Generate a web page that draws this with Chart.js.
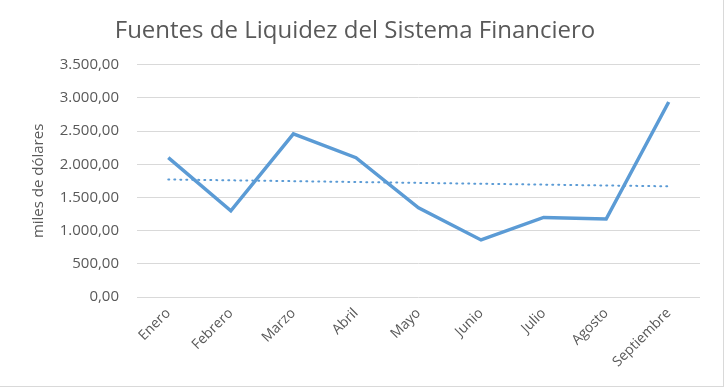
<!DOCTYPE html>
<html>
<head>
<meta charset="utf-8">
<script src="https://cdn.jsdelivr.net/npm/chart.js@4.4.1/dist/chart.umd.min.js"></script>
<style>
  body { margin: 0; background: #fff; }
  #wrap { position: relative; width: 724px; height: 387px; box-sizing: border-box; border-right: 1px solid #d9d9d9; border-bottom: 1px solid #d9d9d9; }
</style>
</head>
<body>
<div id="wrap"><canvas id="chart"></canvas></div>
<script>
let labels = ['Enero', 'Febrero', 'Marzo', 'Abril', 'Mayo', 'Junio', 'Julio', 'Agosto', 'Septiembre'];
let itemData = [2100, 1300, 2460, 2100, 1345, 860, 1200, 1175, 2940];
let yTicks = [0, 500, 1000, 1500, 2000, 2500, 3000, 3500];

// linear trend line (least squares), like the spreadsheet trendline
function linearTrend(values) {
    const n = values.length;
    let sx = 0, sy = 0, sxy = 0, sxx = 0;
    values.forEach((v, i) => { sx += i; sy += v; sxy += i * v; sxx += i * i; });
    const slope = (n * sxy - sx * sy) / (n * sxx - sx * sx);
    const b = (sy - slope * sx) / n;
    return values.map((v, i) => b + slope * i);
}

function formatEs(v) {
    let parts = v.toFixed(2).split('.');
    parts[0] = parts[0].replace(/\B(?=(\d{3})+(?!\d))/g, '.');
    return parts[0] + ',' + parts[1];
}

const txt = '#595959';
const fam = '"Open Sans", sans-serif';

const data = {
    labels: labels,
    datasets: [{
        data: itemData,
        borderColor: '#5B9BD5',
        borderWidth: 3.5,
        pointRadius: 0,
        tension: 0,
        fill: false
    }, {
        data: linearTrend(itemData),
        borderColor: '#5B9BD5',
        borderWidth: 2,
        borderDash: [1, 5],
        borderCapStyle: 'round',
        pointRadius: 0,
        fill: false
    }]
};

const config = {
    type: 'line',
    data: data,
    options: {
        responsive: true,
        maintainAspectRatio: false,
        animation: false,
        layout: { padding: { left: 10, right: 23, top: 0, bottom: 0 } },
        plugins: {
            legend: { display: false },
            tooltip: { enabled: false },
            title: {
                display: true,
                text: 'Fuentes de Liquidez del Sistema Financiero',
                color: txt,
                font: { family: fam, size: 24, weight: 'normal' },
                padding: { top: 17, bottom: 19 }
            }
        },
        scales: {
            y: {
                min: 0,
                max: 3500,
                afterBuildTicks: (scale) => { scale.ticks = yTicks.map(v => ({ value: v })); },
                afterFit: (scale) => { scale.width = 127; },
                border: { display: false },
                grid: { color: '#d9d9d9', drawTicks: false },
                ticks: {
                    color: txt,
                    padding: 18,
                    font: { family: fam, size: 15 },
                    callback: (v) => formatEs(v)
                },
                title: {
                    display: true,
                    text: 'miles de dólares',
                    color: txt,
                    font: { family: fam, size: 15 },
                    padding: { top: 20, bottom: 0 }
                }
            },
            x: {
                offset: true,
                afterFit: (scale) => { scale.height = 89; },
                border: { display: false },
                grid: { display: false, drawTicks: false },
                ticks: {
                    color: txt,
                    padding: 8,
                    maxRotation: 45,
                    minRotation: 45,
                    font: { family: fam, size: 14 }
                }
            }
        }
    }
};

new Chart(document.getElementById('chart'), config);
</script>
</body>
</html>
